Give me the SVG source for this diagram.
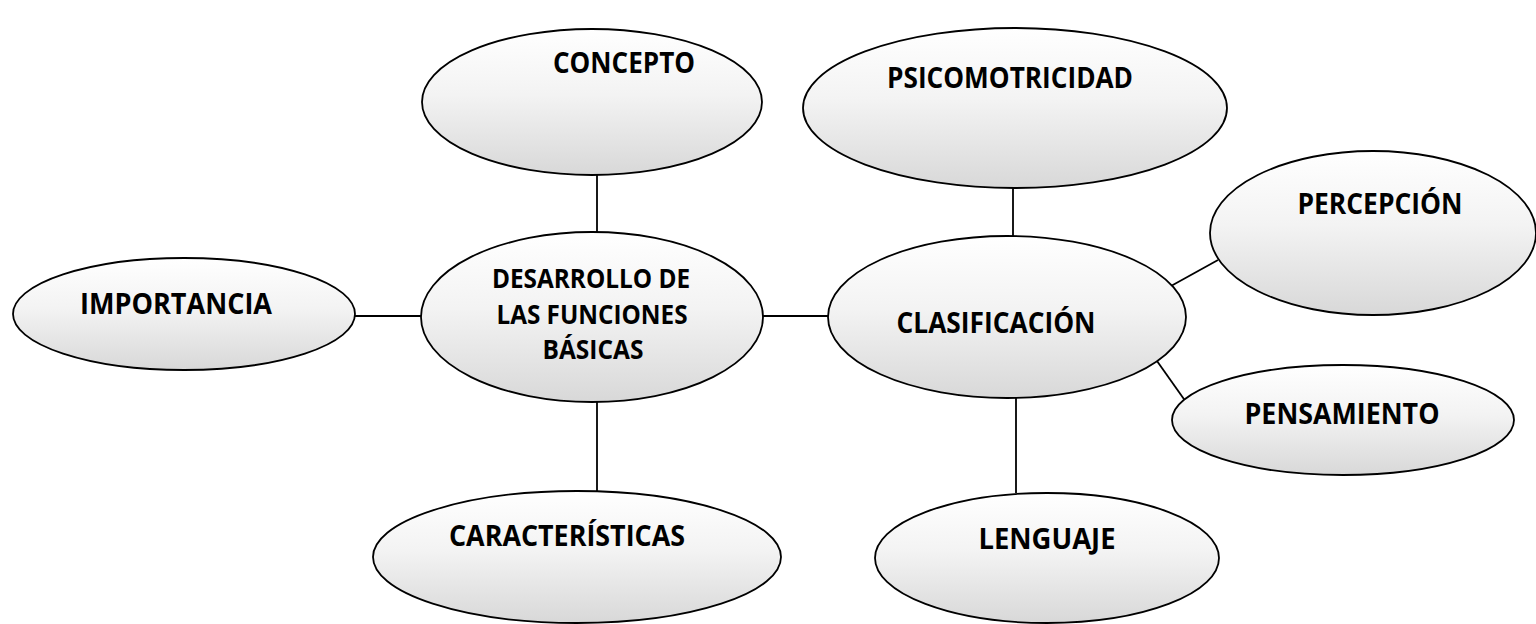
<svg xmlns="http://www.w3.org/2000/svg" width="1536" height="624" viewBox="0 0 1536 624">
<defs>
<linearGradient id="g" x1="0" y1="0" x2="0" y2="1">
<stop offset="0" stop-color="#ffffff"/>
<stop offset="0.45" stop-color="#f3f3f3"/>
<stop offset="1" stop-color="#d8d8d8"/>
</linearGradient>
</defs>
<style>
.n{fill:url(#g);stroke:#000;stroke-width:1.8}
.t{font-family:"Open Sans","Liberation Sans",sans-serif;font-weight:bold;font-size:28px;fill:#000;text-anchor:middle}
.t2{font-size:26.5px}
.c line{stroke:#000;stroke-width:1.8}
</style>
<rect width="1536" height="624" fill="#fff"/>
<g class="c" id="connectors">
<line x1="597" y1="175" x2="597" y2="233"/>
<line x1="355" y1="316" x2="422" y2="316"/>
<line x1="597" y1="402" x2="597" y2="492"/>
<line x1="763" y1="316" x2="829" y2="316"/>
<line x1="1013" y1="187" x2="1013" y2="237"/>
<line x1="1171" y1="286" x2="1218" y2="260"/>
<line x1="1157" y1="361" x2="1186" y2="402"/>
<line x1="1016" y1="396" x2="1016" y2="493"/>
</g>
<g id="concepto"><ellipse class="n" cx="592" cy="102" rx="170" ry="73"/><text class="t" x="624" y="73" textLength="142" lengthAdjust="spacingAndGlyphs">CONCEPTO</text></g>
<g id="desarrollo"><ellipse class="n" cx="592" cy="317" rx="171" ry="85"/>
<text class="t t2" x="591" y="288" textLength="198" lengthAdjust="spacingAndGlyphs">DESARROLLO DE</text>
<text class="t t2" x="592" y="324" textLength="191" lengthAdjust="spacingAndGlyphs">LAS FUNCIONES</text>
<text class="t t2" x="593" y="359" textLength="101" lengthAdjust="spacingAndGlyphs">BÁSICAS</text></g>
<g id="importancia"><ellipse class="n" cx="184" cy="314" rx="171" ry="56"/><text class="t" x="176" y="314" textLength="192" lengthAdjust="spacingAndGlyphs">IMPORTANCIA</text></g>
<g id="caracteristicas"><ellipse class="n" cx="577" cy="557" rx="204" ry="66"/><text class="t" x="567" y="546" textLength="236" lengthAdjust="spacingAndGlyphs">CARACTERÍSTICAS</text></g>
<g id="psicomotricidad"><ellipse class="n" cx="1015" cy="108" rx="212" ry="80"/><text class="t" x="1010" y="88" textLength="246" lengthAdjust="spacingAndGlyphs">PSICOMOTRICIDAD</text></g>
<g id="clasificacion"><ellipse class="n" cx="1007" cy="317" rx="179" ry="81"/><text class="t" x="996" y="333" textLength="199" lengthAdjust="spacingAndGlyphs">CLASIFICACIÓN</text></g>
<g id="percepcion"><ellipse class="n" cx="1373" cy="233" rx="163" ry="82"/><text class="t" x="1380" y="214" textLength="165" lengthAdjust="spacingAndGlyphs">PERCEPCIÓN</text></g>
<g id="pensamiento"><ellipse class="n" cx="1343" cy="420" rx="171" ry="55"/><text class="t" x="1342" y="424" textLength="195" lengthAdjust="spacingAndGlyphs">PENSAMIENTO</text></g>
<g id="lenguaje"><ellipse class="n" cx="1047" cy="558" rx="172" ry="65"/><text class="t" x="1047" y="549" textLength="137" lengthAdjust="spacingAndGlyphs">LENGUAJE</text></g>
</svg>
